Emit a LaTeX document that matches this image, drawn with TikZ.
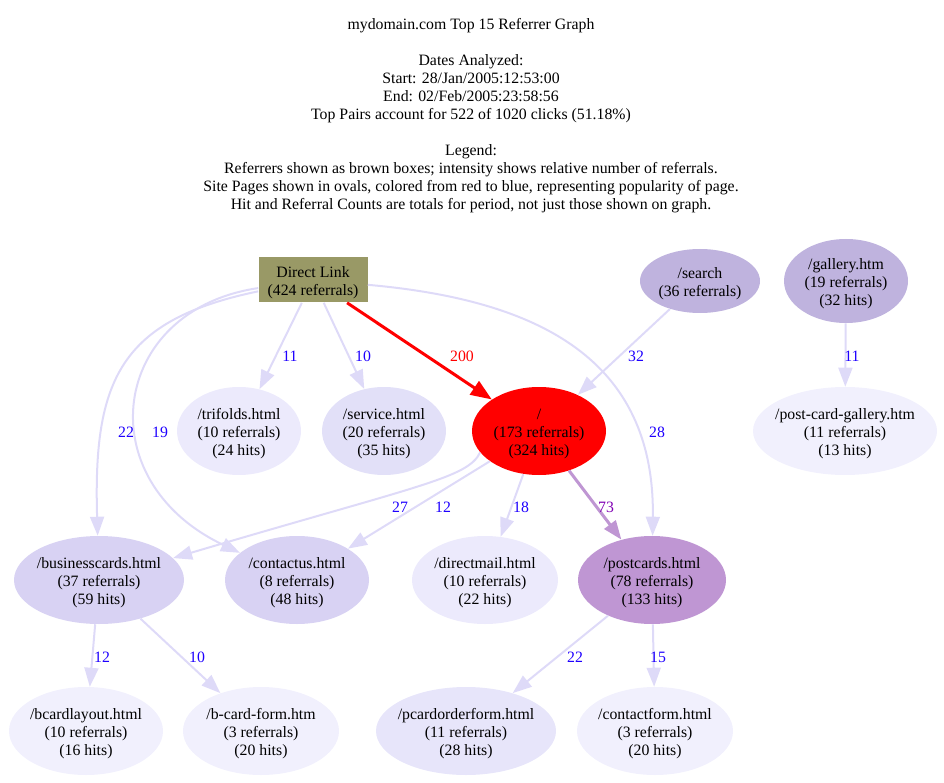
\documentclass[tikz,border=0pt]{standalone}
\usepackage{fontspec}
\setmainfont{Liberation Serif}
\usetikzlibrary{arrows.meta, shapes.geometric}

\definecolor{refbox}{RGB}{153,153,102}
\definecolor{pagehot}{RGB}{255,0,0}
\definecolor{pagewarm}{RGB}{191,150,211}
\definecolor{pagemid}{RGB}{191,179,222}
\definecolor{pagecool}{RGB}{216,210,243}
\definecolor{pagecooler}{RGB}{226,224,248}
\definecolor{pagecold}{RGB}{231,229,250}
\definecolor{pagecolder}{RGB}{236,234,252}
\definecolor{pagecoldest}{RGB}{241,240,253}
\definecolor{linkcol}{RGB}{222,218,248}
\definecolor{countcol}{RGB}{30,0,255}
\definecolor{warmcount}{RGB}{128,0,180}

% node texts, first line pushed down a little
\newcommand{\pagetext}[3]{\rule{0pt}{17pt}#1\\#2\\#3}
\newcommand{\reftext}[2]{\rule{0pt}{17pt}#1\\#2}

\begin{document}
\begin{tikzpicture}[
            x = 1pt, y = -1pt, % graphviz pixel layout
            > = {Triangle[length=19pt, width=14pt]}, % arrow head style
            semithick % line style
        ]

        \tikzstyle{every node}=[font=\fontsize{15.8}{18}\selectfont]
        \tikzstyle{referrer}=[
            rectangle,
            fill = refbox,
            minimum width = 109pt,
            minimum height = 45pt,
            inner sep = 0pt,
            align = center
        ]
        \tikzstyle{page}=[
            ellipse,
            inner xsep = -8pt,
            inner ysep = 0pt,
            minimum height = 88pt,
            align = center
        ]
        \tikzstyle{hit}=[->, draw = linkcol, line width = 2pt]
        \tikzstyle{count}=[text = countcol, inner sep = 0pt]

        \useasboundingbox (0,0) rectangle (944,783);

        \node (title) at (471,115.5) [align=center] {mydomain.com Top 15 Referrer Graph\\[18pt]
            Dates Analyzed:\\
            Start: 28/Jan/2005:12:53:00\\
            End: 02/Feb/2005:23:58:56\\
            Top Pairs account for 522 of 1020 clicks (51.18\%)\\[18pt]
            Legend:\\
            Referrers shown as brown boxes; intensity shows relative number of referrals.\\
            Site Pages shown in ovals, colored from red to blue, representing popularity of page.\\
            Hit and Referral Counts are totals for period, not just those shown on graph.};

        % referrers and top row
        \node[referrer] (dl) at (313,280) {\reftext{Direct Link}{(424 referrals)}};
        \node[page, fill=pagemid, minimum width=120pt, minimum height=64pt] (search) at (700,281) {\reftext{/search}{(36 referrals)}};
        \node[page, fill=pagemid, minimum width=124pt, minimum height=84pt] (gallery) at (846,281) {\pagetext{/gallery.htm}{(19 referrals)}{(32 hits)}};

        % second row
        \node[page, fill=pagecolder, minimum width=124pt] (tri) at (239,431) {\pagetext{/trifolds.html}{(10 referrals)}{(24 hits)}};
        \node[page, fill=pagecooler, minimum width=124pt] (svc) at (384,431) {\pagetext{/service.html}{(20 referrals)}{(35 hits)}};
        \node[page, fill=pagehot, minimum width=134pt] (root) at (539,431) {\pagetext{/}{(173 referrals)}{(324 hits)}};
        \node[page, fill=pagecoldest, minimum width=184pt] (pcg) at (845,431) {\pagetext{/post-card-gallery.htm}{(11 referrals)}{(13 hits)}};

        % third row
        \node[page, fill=pagecool, minimum width=170pt] (bc) at (99,580) {\pagetext{/businesscards.html}{(37 referrals)}{(59 hits)}};
        \node[page, fill=pagecool, minimum width=144pt] (cu) at (297,580) {\pagetext{/contactus.html}{(8 referrals)}{(48 hits)}};
        \node[page, fill=pagecolder, minimum width=146pt] (dm) at (485,580) {\pagetext{/directmail.html}{(10 referrals)}{(22 hits)}};
        \node[page, fill=pagewarm, minimum width=148pt] (pc) at (652,580) {\pagetext{/postcards.html}{(78 referrals)}{(133 hits)}};

        % bottom row
        \node[page, fill=pagecoldest, minimum width=154pt] (bcl) at (86,731) {\pagetext{/bcardlayout.html}{(10 referrals)}{(16 hits)}};
        \node[page, fill=pagecoldest, minimum width=156pt] (bcf) at (261,731) {\pagetext{/b-card-form.htm}{(3 referrals)}{(20 hits)}};
        \node[page, fill=pagecold, minimum width=180pt] (pof) at (466,731) {\pagetext{/pcardorderform.html}{(11 referrals)}{(28 hits)}};
        \node[page, fill=pagecoldest, minimum width=156pt] (cf) at (655,731) {\pagetext{/contactform.html}{(3 referrals)}{(20 hits)}};

        % links out of Direct Link
        \draw[hit] (dl) -- (tri);
        \draw[hit] (dl) -- (svc);
        \draw[->, draw=pagehot, line width=3pt, > = {Triangle[length=21pt, width=16pt]}] (dl) -- (root);
        \draw[hit] (dl) .. controls (120,320) and (93,380) .. (bc);
        \draw[hit] (dl) .. controls (110,310) and (87,480) .. (cu);
        \draw[hit] (dl) .. controls (540,300) and (655,360) .. (pc);

        \draw[hit] (search) -- (root);
        \draw[hit] (gallery) -- (pcg);

        % links out of /
        \draw[hit] (root.200) .. controls (468,478) and (420,485) .. (bc);
        \draw[hit] (root) -- (cu);
        \draw[hit] (root.250) -- (dm);
        \draw[->, draw=pagewarm, line width=3pt] (root) -- (pc);

        \draw[hit] (bc) -- (bcl);
        \draw[hit] (bc) -- (bcf);
        \draw[hit] (pc) -- (pof);
        \draw[hit] (pc) -- (cf);

        % counts
        \node[count] (c1) at (290,356) {11};
        \node[count] (c2) at (363,356) {10};
        \node[count, text=pagehot] (c3) at (462,356) {200};
        \node[count] (c4) at (126,432) {22};
        \node[count] (c5) at (160,432) {19};
        \node[count] (c6) at (657,432) {28};
        \node[count] (c7) at (636,356) {32};
        \node[count] (c8) at (852,356) {11};
        \node[count] (c9) at (400,507) {27};
        \node[count] (c10) at (443,507) {12};
        \node[count] (c11) at (521,507) {18};
        \node[count, text=warmcount] (c12) at (606,507) {73};
        \node[count] (c13) at (102,657) {12};
        \node[count] (c14) at (197,657) {10};
        \node[count] (c15) at (575,657) {22};
        \node[count] (c16) at (658,657) {15};
    \end{tikzpicture}
\end{document}
